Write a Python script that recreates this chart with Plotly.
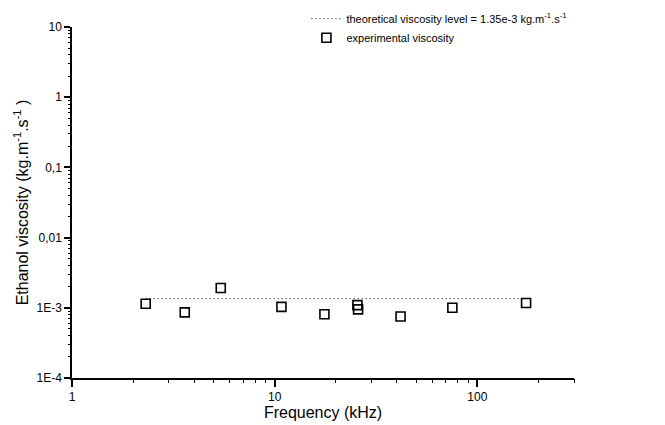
import plotly.graph_objects as go

# Data
freq_khz = [2.31, 3.60, 5.42, 10.8, 17.6, 25.6, 25.8, 41.8, 75.3, 174]
viscosity = [1.14e-3, 0.86e-3, 1.91e-3, 1.03e-3, 0.81e-3, 1.09e-3, 0.95e-3, 0.75e-3, 1.0e-3, 1.17e-3]
theory_freq = [2.31, 174]
theory_level = [1.35e-3, 1.35e-3]

x_tickvals = [1, 10, 100]
x_ticktext = ["1", "10", "100"]
y_tickvals = [1e-4, 1e-3, 1e-2, 1e-1, 1, 10]
y_ticktext = ["1E-4", "1E-3", "0,01", "0,1", "1", "10"]

# minor log ticks (2..9 in each decade)
x_minor = [m * d for d in [1, 10, 100] for m in range(2, 10) if m * d <= 300]
y_minor = [m * d for d in [1e-4, 1e-3, 1e-2, 1e-1, 1] for m in range(2, 10)]

font_family = "Liberation Sans, Arial, sans-serif"
x_range = [0, 2.477]
y_range = [-4, 1]

fig = go.Figure()
fig.add_trace(go.Scatter(
    x=theory_freq, y=theory_level, mode="lines",
    line=dict(color="black", width=1, dash="1px,3px"),
    name="theoretical viscosity level = 1.35e-3 kg.m<sup>-1</sup>.s<sup>-1</sup>",
))
fig.add_trace(go.Scatter(
    x=freq_khz, y=viscosity, mode="markers",
    marker=dict(symbol="square-open", size=9, color="black", line=dict(width=1.6, color="black")),
    name="experimental viscosity",
))
# empty helper trace so the minor-tick overlay axes are drawn
fig.add_trace(go.Scatter(x=[], y=[], xaxis="x2", yaxis="y2", showlegend=False,
                         hoverinfo="skip", mode="markers"))

fig.update_layout(
    width=665, height=425,
    margin=dict(l=72, r=91, t=27, b=47, autoexpand=False),
    paper_bgcolor="white", plot_bgcolor="white",
    font=dict(family=font_family, color="black", size=12),
    legend=dict(x=0.467, y=1.065, xanchor="left", yanchor="top",
                bgcolor="rgba(0,0,0,0)", font=dict(size=11, color="black"),
                itemwidth=30, tracegroupgap=0),
    showlegend=True,
    xaxis2=dict(type="log", range=x_range, overlaying="x", anchor="y", side="bottom",
                tickmode="array", tickvals=x_minor, showticklabels=False,
                ticks="outside", ticklen=4, tickwidth=1, tickcolor="black",
                showline=False, showgrid=False, zeroline=False),
    yaxis2=dict(type="log", range=y_range, overlaying="y", anchor="x", side="left",
                tickmode="array", tickvals=y_minor, showticklabels=False,
                ticks="outside", ticklen=3, tickwidth=1, tickcolor="black",
                showline=False, showgrid=False, zeroline=False),
)
fig.update_layout(
    xaxis=dict(
        type="log", range=x_range,
        tickmode="array", tickvals=x_tickvals, ticktext=x_ticktext,
        showline=True, linecolor="black", linewidth=1.5,
        ticks="outside", ticklen=7, tickwidth=1.5, tickcolor="black",
        showgrid=False, zeroline=False, mirror=False,
        tickfont=dict(size=12),
        title=dict(text="Frequency (kHz)", font=dict(size=16), standoff=4),
    ),
    yaxis=dict(
        type="log", range=y_range,
        tickmode="array", tickvals=y_tickvals, ticktext=y_ticktext,
        showline=True, linecolor="black", linewidth=1.5,
        ticks="outside", ticklen=6, tickwidth=1.5, tickcolor="black",
        showgrid=False, zeroline=False, mirror=False,
        tickfont=dict(size=12),
        title=dict(text="Ethanol viscosity (kg.m<sup>-1</sup>.s<sup>-1</sup> )", font=dict(size=16), standoff=4),
    ),
)

fig.write_html("out.html", config={"displayModeBar": False},
               post_script="document.body.style.margin='0';")
